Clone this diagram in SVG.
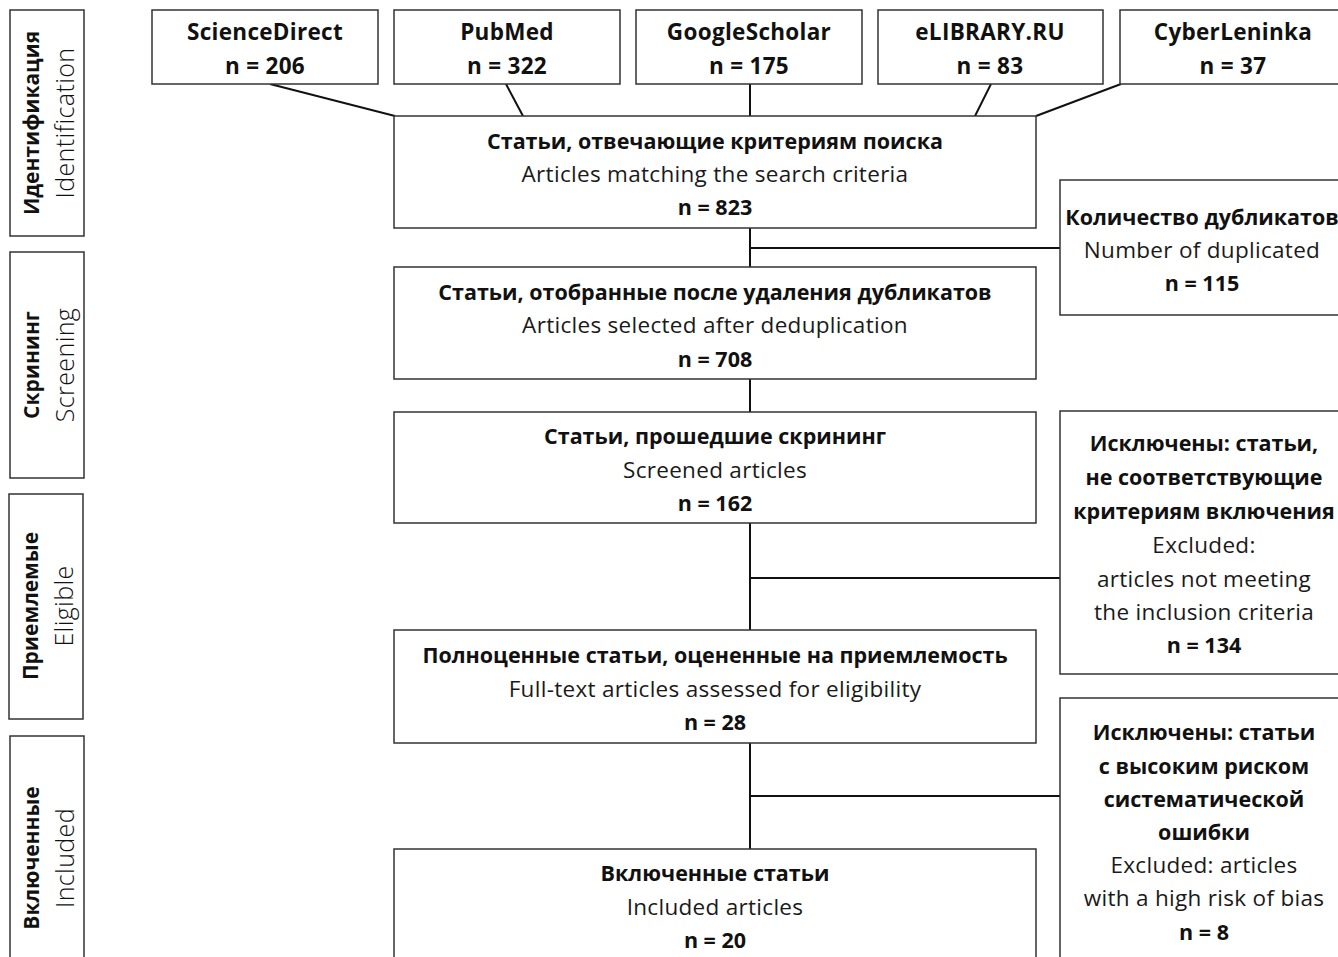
<svg xmlns="http://www.w3.org/2000/svg" width="1338" height="957" viewBox="0 0 1338 957">
<style>
.box{fill:#fff;stroke:#333;stroke-width:1.5}
.c{stroke:#111;stroke-width:2;fill:none}
.b{font-family:"Open Sans","Noto Sans",sans-serif;font-weight:700;font-size:21.5px;fill:#111;text-anchor:middle}
.s{font-size:22.5px;letter-spacing:0.3px}
.l{font-family:"Open Sans","Noto Sans",sans-serif;font-weight:400;font-size:22.5px;letter-spacing:0.3px;fill:#1a1a1a;text-anchor:middle}
.sb{font-family:"Open Sans","Noto Sans",sans-serif;font-weight:700;font-size:21px;fill:#111;text-anchor:middle}
.sl{font-family:"Open Sans","Noto Sans",sans-serif;font-weight:300;font-size:25px;letter-spacing:0.4px;fill:#111;text-anchor:middle}
</style>
<rect width="1338" height="957" fill="#fff"/>
<g id="connectors">
<line class="c" x1="270" y1="84" x2="395" y2="116"/>
<line class="c" x1="506" y1="84" x2="523" y2="116"/>
<line class="c" x1="750" y1="84" x2="750" y2="116"/>
<line class="c" x1="991" y1="84" x2="975" y2="116"/>
<line class="c" x1="1121" y1="84" x2="1036" y2="116"/>
<line class="c" x1="750" y1="228" x2="750" y2="267"/>
<line class="c" x1="750" y1="248" x2="1060" y2="248"/>
<line class="c" x1="750" y1="379" x2="750" y2="412"/>
<line class="c" x1="750" y1="523" x2="750" y2="630"/>
<line class="c" x1="750" y1="578" x2="1060" y2="578"/>
<line class="c" x1="750" y1="743" x2="750" y2="849"/>
<line class="c" x1="750" y1="796" x2="1060" y2="796"/>
</g>
<g id="stage-identification">
<rect class="box" x="10" y="10" width="74" height="226"/>
<text class="sb" transform="translate(39,123) rotate(-90)">Идентификация</text>
<text class="sl" transform="translate(74,123) rotate(-90)">Identification</text>
</g>
<g id="stage-screening">
<rect class="box" x="10" y="252" width="74" height="226"/>
<text class="sb" transform="translate(39,365) rotate(-90)">Скрининг</text>
<text class="sl" transform="translate(74,365) rotate(-90)">Screening</text>
</g>
<g id="stage-eligible">
<rect class="box" x="9" y="494" width="74" height="225"/>
<text class="sb" transform="translate(38,606) rotate(-90)">Приемлемые</text>
<text class="sl" transform="translate(73,606) rotate(-90)">Eligible</text>
</g>
<g id="stage-included">
<rect class="box" x="10" y="736" width="74" height="260"/>
<text class="sb" transform="translate(39,858) rotate(-90)">Включенные</text>
<text class="sl" transform="translate(74,858) rotate(-90)">Included</text>
</g>
<g id="src-sciencedirect">
<rect class="box" x="152" y="10" width="226" height="74"/>
<text class="b s" x="265" y="40">ScienceDirect</text>
<text class="b s" x="265" y="74">n = 206</text>
</g>
<g id="src-pubmed">
<rect class="box" x="394" y="10" width="226" height="74"/>
<text class="b s" x="507" y="40">PubMed</text>
<text class="b s" x="507" y="74">n = 322</text>
</g>
<g id="src-googlescholar">
<rect class="box" x="636" y="10" width="226" height="74"/>
<text class="b s" x="749" y="40">GoogleScholar</text>
<text class="b s" x="749" y="74">n = 175</text>
</g>
<g id="src-elibrary">
<rect class="box" x="878" y="10" width="225" height="74"/>
<text class="b s" x="990" y="40">eLIBRARY.RU</text>
<text class="b s" x="990" y="74">n = 83</text>
</g>
<g id="src-cyberleninka">
<rect class="box" x="1120" y="10" width="226" height="74"/>
<text class="b s" x="1233" y="40">CyberLeninka</text>
<text class="b s" x="1233" y="74">n = 37</text>
</g>
<g id="matching">
<rect class="box" x="394" y="116" width="642" height="112"/>
<text class="b" x="715" y="149">Статьи, отвечающие критериям поиска</text>
<text class="l" x="715" y="182">Articles matching the search criteria</text>
<text class="b" x="715" y="215">n = 823</text>
</g>
<g id="duplicates">
<rect class="box" x="1060" y="180" width="286" height="135"/>
<text class="b" x="1202" y="225">Количество дубликатов</text>
<text class="l" x="1202" y="258">Number of duplicated</text>
<text class="b" x="1202" y="291">n = 115</text>
</g>
<g id="deduplicated">
<rect class="box" x="394" y="267" width="642" height="112"/>
<text class="b" x="715" y="300">Статьи, отобранные после удаления дубликатов</text>
<text class="l" x="715" y="333">Articles selected after deduplication</text>
<text class="b" x="715" y="367">n = 708</text>
</g>
<g id="screened">
<rect class="box" x="394" y="412" width="642" height="111"/>
<text class="b" x="715" y="444">Статьи, прошедшие скрининг</text>
<text class="l" x="715" y="478">Screened articles</text>
<text class="b" x="715" y="511">n = 162</text>
</g>
<g id="excluded-criteria">
<rect class="box" x="1060" y="411" width="288" height="263"/>
<text class="b" x="1204" y="451">Исключены: статьи,</text>
<text class="b" x="1204" y="485">не соответствующие</text>
<text class="b" x="1204" y="519">критериям включения</text>
<text class="l" x="1204" y="553">Excluded:</text>
<text class="l" x="1204" y="587">articles not meeting</text>
<text class="l" x="1204" y="620">the inclusion criteria</text>
<text class="b" x="1204" y="653">n = 134</text>
</g>
<g id="fulltext">
<rect class="box" x="394" y="630" width="642" height="113"/>
<text class="b" x="715" y="663">Полноценные статьи, оцененные на приемлемость</text>
<text class="l" x="715" y="697">Full-text articles assessed for eligibility</text>
<text class="b" x="715" y="730">n = 28</text>
</g>
<g id="excluded-bias">
<rect class="box" x="1060" y="698" width="288" height="300"/>
<text class="b" x="1204" y="740">Исключены: статьи</text>
<text class="b" x="1204" y="774">с высоким риском</text>
<text class="b" x="1204" y="807">систематической</text>
<text class="b" x="1204" y="840">ошибки</text>
<text class="l" x="1204" y="873">Excluded: articles</text>
<text class="l" x="1204" y="906">with a high risk of bias</text>
<text class="b" x="1204" y="940">n = 8</text>
</g>
<g id="included">
<rect class="box" x="394" y="849" width="642" height="150"/>
<text class="b" x="715" y="881">Включенные статьи</text>
<text class="l" x="715" y="915">Included articles</text>
<text class="b" x="715" y="948">n = 20</text>
</g>
</svg>
